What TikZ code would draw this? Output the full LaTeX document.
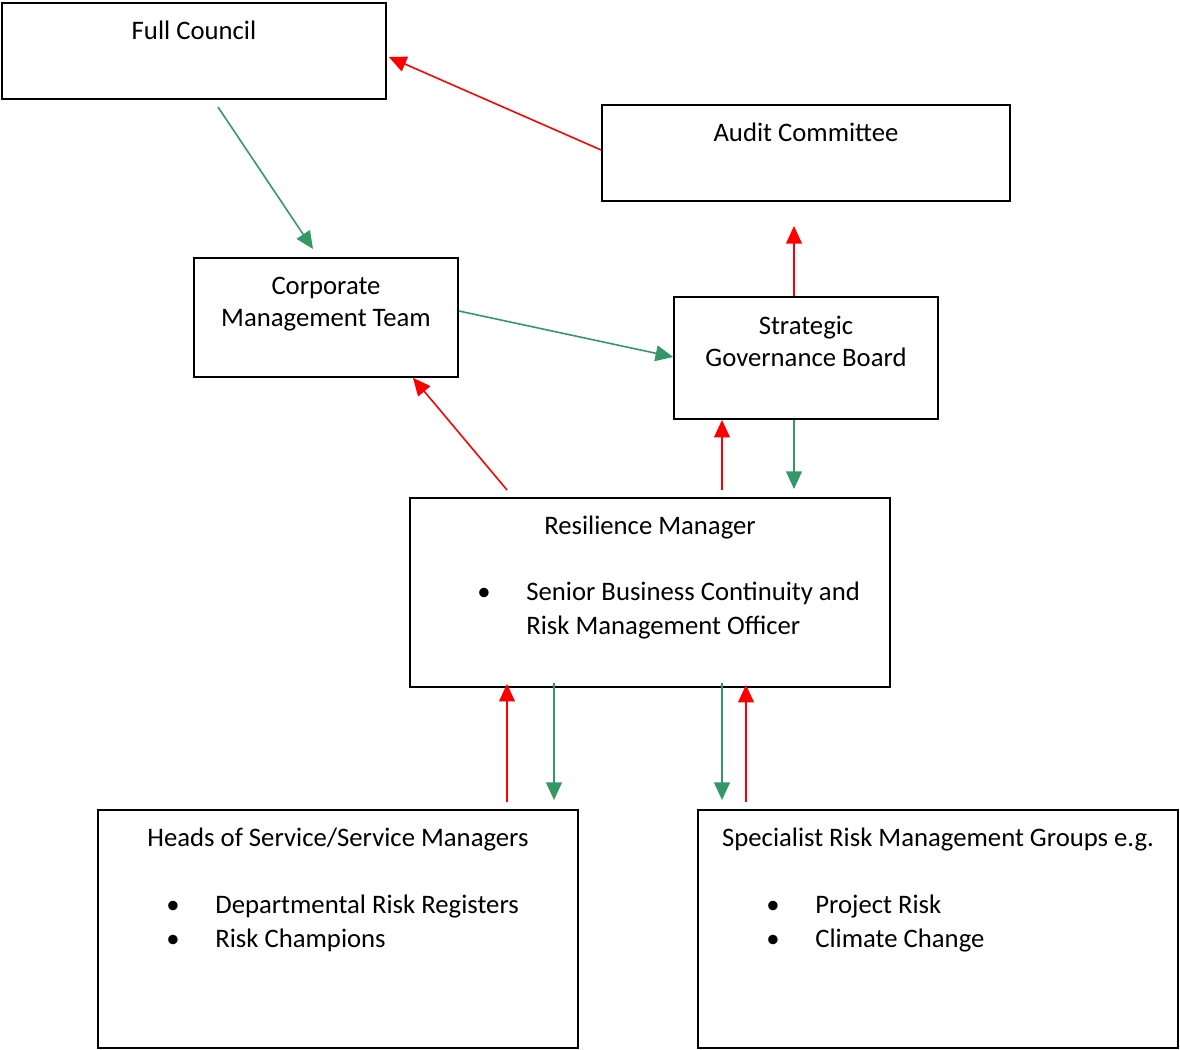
\documentclass[tikz,border=0pt]{standalone}
\usepackage{fontspec}
\setmainfont{Carlito}
\usetikzlibrary{arrows.meta,calc,positioning,fit}

\definecolor{upred}{RGB}{255,0,0}
\definecolor{downgreen}{RGB}{52,152,102}

\begin{document}
\begin{tikzpicture}
[x=0.02cm, y=-0.02cm, font=\fontsize{15.2pt}{18pt}\selectfont,
box/.style = {draw=black, line width=1pt, inner sep=0pt, fit={#1}},
title/.style = {inner sep=0pt, anchor=north, align=center},
item/.style = {inner sep=0pt, anchor=base west},
report/.style = {draw=upred, line width=0.9pt, -{Triangle[length=10pt,width=9pt]}},
direct/.style = {draw=downgreen, line width=0.9pt, -{Triangle[length=10pt,width=9pt]}}]

\useasboundingbox (0,0) rectangle (1180,1050);

% boxes
\node[box={(2,3) (386,99)}] (fc) {};
\node[box={(602,105) (1010,201)}] (ac) {};
\node[box={(194,258) (458,377)}] (cmt) {};
\node[box={(674,297) (938,419)}] (sgb) {};
\node[box={(410,498) (890,687)}] (rm) {};
\node[box={(98,810) (578,1048)}] (hos) {};
\node[box={(698,810) (1178,1048)}] (srg) {};

% texts
\node[title] (fct) at (194,21) {Full Council};
\node[title] (act) at (806,123) {Audit Committee};
\node[title] (cmtt) at (326,277) {Corporate\\Management Team};
\node[title] (sgbt) at (806,316) {Strategic\\Governance Board};
\node[title] (rmt) at (650,516) {Resilience Manager};
\node[item] (rmb) at (477,601) {•};
\node[item] (rmi) at (526,601) {Senior Business Continuity and};
\node[item] (rmj) at (526,634) {Risk Management Officer};
\node[title] (host) at (338,828) {Heads of Service/Service Managers};
\node[item] (hosb1) at (166,913) {•};
\node[item] (hosi1) at (215,913) {Departmental Risk Registers};
\node[item] (hosb2) at (166,947) {•};
\node[item] (hosi2) at (215,947) {Risk Champions};
\node[title] (srgt) at (938,828) {Specialist Risk Management Groups e.g.};
\node[item] (srgb1) at (766,913) {•};
\node[item] (srgi1) at (815,913) {Project Risk};
\node[item] (srgb2) at (766,947) {•};
\node[item] (srgi2) at (815,947) {Climate Change};

% free ends of the arrows
\coordinate (fcout) at (218,107);
\coordinate (cmtin) at (313,249);
\coordinate (acin) at (794,226);
\coordinate (rmup1) at (507,490);
\coordinate (cmtup) at (413,375);
\coordinate (rmup2) at (722,490);
\coordinate (rmin) at (794,489);
\coordinate (hosup) at (507,802);
\coordinate (hosin) at (554,800);
\coordinate (srgin) at (722,800);
\coordinate (srgup) at (746,802);

% arrows
\draw[report] (ac.west |- 0,150) -- ($(fc.east)+(2,6)$);
\draw[direct] (fcout) -- (cmtin);
\draw[direct] (cmt.east |- 0,311) -- (sgb.west |- 0,357);
\draw[report] (acin |- sgb.north) -- (acin);
\draw[report] (rmup1) -- (cmtup |- cmt.south);
\draw[report] (rmup2) -- (rmup2 |- sgb.south);
\draw[direct] (rmin |- sgb.south) -- (rmin);
\draw[report] (hosup) -- ($(hosup |- rm.south)+(0,-4)$);
\draw[direct] ($(hosin |- rm.south)+(0,-5)$) -- (hosin);
\draw[direct] ($(srgin |- rm.south)+(0,-5)$) -- (srgin);
\draw[report] (srgup) -- ($(srgup |- rm.south)+(0,-3)$);
\end{tikzpicture}
\end{document}
